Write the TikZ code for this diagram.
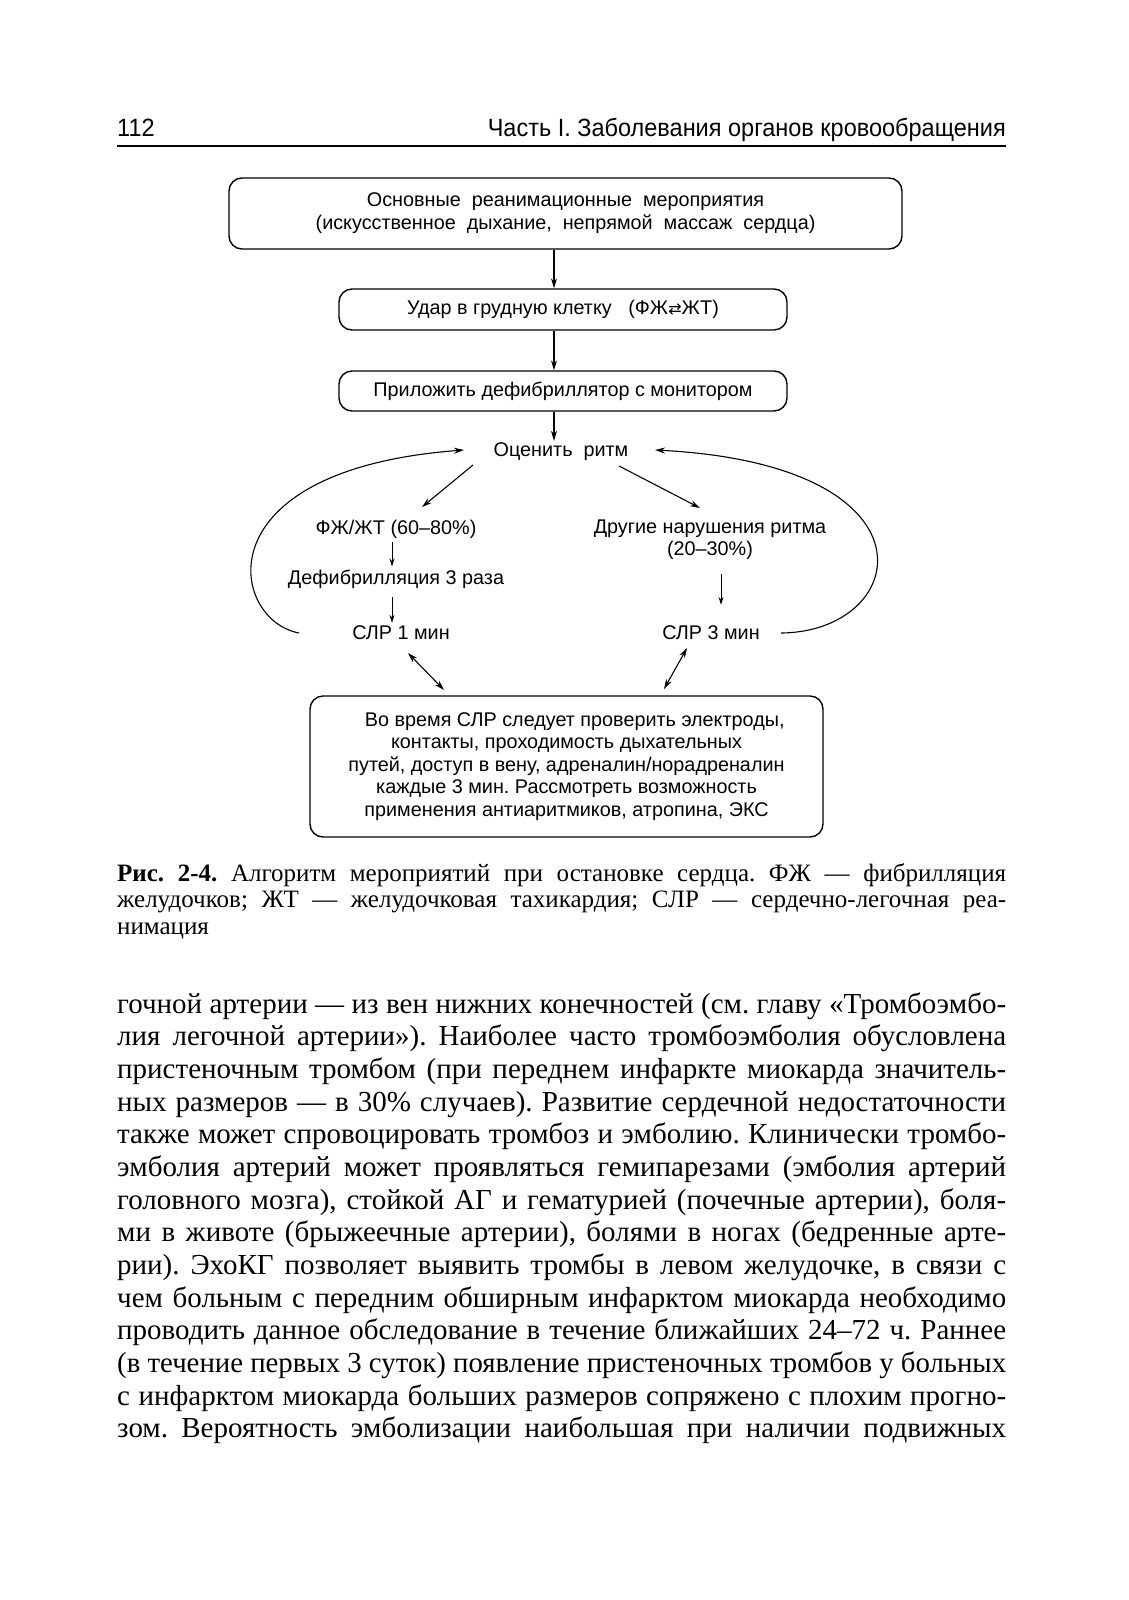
\documentclass[tikz,border=0pt]{standalone}
\usepackage{fontspec}
\usepackage{graphicx}
\setmainfont{Liberation Serif}
\newfontfamily\capf{Liberation Serif}
\newfontfamily\dgf{Liberation Sans}
\newfontfamily\hdf[FakeStretch=0.94]{Liberation Sans}
\newfontfamily\symf{DejaVu Sans}
\usetikzlibrary{arrows.meta}
\frenchspacing
\newlength\natw
\newcommand\jline[1]{\settowidth\natw{#1}\ifdim\natw>889pt\relax\pgfmathsetmacro\jr{889/\natw}\scalebox{\jr}[1]{#1}\else\hbox to 889pt{#1}\fi}
\begin{document}
\begin{tikzpicture}[x=1pt,y=-1pt,
  box/.style={draw, line width=1.4pt, rounded corners=13pt, align=center,
    font=\dgf\fontsize{19.8}{23}\selectfont, inner sep=0pt},
  lbl/.style={font=\dgf\fontsize{19.8}{22}\selectfont, inner sep=2pt, align=center},
  arr/.style={-{Stealth[length=10pt,width=6pt]}, line width=1.1pt},
  sarr/.style={-{Stealth[length=8pt,width=5pt]}, line width=1pt},
  darr/.style={{Stealth[length=10pt,width=6pt]}-{Stealth[length=10pt,width=6pt]}, line width=1.1pt},
  bodytext/.style={anchor=base west, inner sep=0pt, font=\fontsize{29}{33}\selectfont},
  captext/.style={anchor=base west, inner sep=0pt, font=\capf\fontsize{25}{26}\selectfont}]
\fill[white] (0,0) rectangle (1129,1600);
\useasboundingbox (0,0) rectangle (1129,1600);
% header
\node[anchor=base west, inner sep=0pt, font=\hdf\fontsize{25}{25}\selectfont] (pg) at (117,136) {112};
\node[anchor=base east, inner sep=0pt, font=\hdf\fontsize{25}{25}\selectfont] (hd) at (1006,136) {Часть I. Заболевания органов кровообращения};
\draw[line width=1.8pt] (117,146) -- (1006,146);
% boxes
\node[box, minimum width=673pt, minimum height=71pt] (b1) at (565.5,213.5)
  {Основные\ \ реанимационные\ \ мероприятия\\(искусственное\ \ дыхание,\ \ непрямой\ \ массаж\ \ сердца)};
\node[box, minimum width=448pt, minimum height=41pt] (b2) at (563,309.5)
  {Удар в грудную клетку\ \ \ (ФЖ{\symf\fontsize{16}{16}\selectfont ⇄}ЖТ)};
\node[box, minimum width=448pt, minimum height=40pt] (b3) at (563,391)
  {Приложить дефибриллятор с монитором};
\node[box, minimum width=513pt, minimum height=141pt, font=\dgf\fontsize{19.8}{22.4}\selectfont] (b4) at (566.5,766.5)
  {\ \ \ Во время СЛР следует проверить электроды,\\контакты, проходимость дыхательных\\путей, доступ в вену, адреналин/норадреналин\\каждые 3 мин. Рассмотреть возможность\\применения антиаритмиков, атропина, ЭКС};
% labels
\node[lbl] (ocen) at (561,452) {Оценить\ \ ритм};
\node[lbl] (fzh) at (396,529) {ФЖ/ЖТ (60–80\%)};
\node[lbl] (defib) at (396,579) {Дефибрилляция 3 раза};
\node[lbl] (slr1) at (401,633) {СЛР 1 мин};
\node[lbl] (other) at (710,540) {Другие нарушения ритма\\(20–30\%)};
\node[lbl] (slr3) at (711,633) {СЛР 3 мин};
% arrow axis
\coordinate (ax) at (554,0);
\draw[arr] (b1.south -| ax) -- (b2.north -| ax);
\draw[arr] (b2.south -| ax) -- (b3.north -| ax);
\draw[arr] (b3.south -| ax) -- (ocen.north -| ax);
% branches
\coordinate (la) at (473,465); \coordinate (lb) at (422,507);
\coordinate (ra) at (619,466); \coordinate (rb) at (700,508);
\draw[arr] (la) -- (lb);
\draw[arr] (ra) -- (rb);
\coordinate (sx1) at (392,0); \coordinate (sx2) at (721,0);
\draw[sarr] ([yshift=-2pt]fzh.south -| sx1) -- ([yshift=1pt]defib.north -| sx1);
\draw[sarr] ([yshift=-6pt]defib.south -| sx1) -- ([yshift=1pt]slr1.north -| sx1);
\draw[sarr] ([yshift=-12pt]other.south -| sx2) -- ([yshift=19pt]slr3.north -| sx2);
% loops
\coordinate (l0) at (299,633); \coordinate (l1) at (464,450);
\coordinate (r0) at (781,633); \coordinate (r1) at (655,450);
\draw[arr] (l0) .. controls (230,620) and (200,470) .. (l1);
\draw[arr] (r0) .. controls (910,632) and (945,465) .. (r1);
% double arrows
\coordinate (d1a) at (408,653); \coordinate (d1b) at (444,690);
\coordinate (d2a) at (687,648); \coordinate (d2b) at (664,689);
\draw[darr] (d1a) -- (d1b);
\draw[darr] (d2a) -- (d2b);
% caption
\node[captext] (c1) at (117,881) {\jline{\textbf{Рис. 2-4.} Алгоритм мероприятий при остановке сердца. ФЖ — фибрилляция}};
\node[captext] (c2) at (117,907) {\jline{желудочков; ЖТ — желудочковая тахикардия; СЛР — сердечно-легочная реа-}};
\node[captext] (c3) at (117,934) {нимация};
% body text
\node[bodytext] (t1) at (117,1013) {\jline{гочной артерии — из вен нижних конечностей (см. главу «Тромбоэмбо-}};
\node[bodytext] (t2) at (117,1045.7) {\jline{лия легочной артерии»). Наиболее часто тромбоэмболия обусловлена}};
\node[bodytext] (t3) at (117,1078.3) {\jline{пристеночным тромбом (при переднем инфаркте миокарда значитель-}};
\node[bodytext] (t4) at (117,1111) {\jline{ных размеров — в 30\% случаев). Развитие сердечной недостаточности}};
\node[bodytext] (t5) at (117,1143.7) {\jline{также может спровоцировать тромбоз и эмболию. Клинически тромбо-}};
\node[bodytext] (t6) at (117,1176.3) {\jline{эмболия артерий может проявляться гемипарезами (эмболия артерий}};
\node[bodytext] (t7) at (117,1209) {\jline{головного мозга), стойкой АГ и гематурией (почечные артерии), боля-}};
\node[bodytext] (t8) at (117,1241.7) {\jline{ми в животе (брыжеечные артерии), болями в ногах (бедренные арте-}};
\node[bodytext] (t9) at (117,1274.3) {\jline{рии). ЭхоКГ позволяет выявить тромбы в левом желудочке, в связи с}};
\node[bodytext] (t10) at (117,1307) {\jline{чем больным с передним обширным инфарктом миокарда необходимо}};
\node[bodytext] (t11) at (117,1339.7) {\jline{проводить данное обследование в течение ближайших 24–72 ч. Раннее}};
\node[bodytext] (t12) at (117,1372.3) {\jline{(в течение первых 3 суток) появление пристеночных тромбов у больных}};
\node[bodytext] (t13) at (117,1405) {\jline{с инфарктом миокарда больших размеров сопряжено с плохим прогно-}};
\node[bodytext] (t14) at (117,1437.7) {\jline{зом. Вероятность эмболизации наибольшая при наличии подвижных}};
\end{tikzpicture}
\end{document}
